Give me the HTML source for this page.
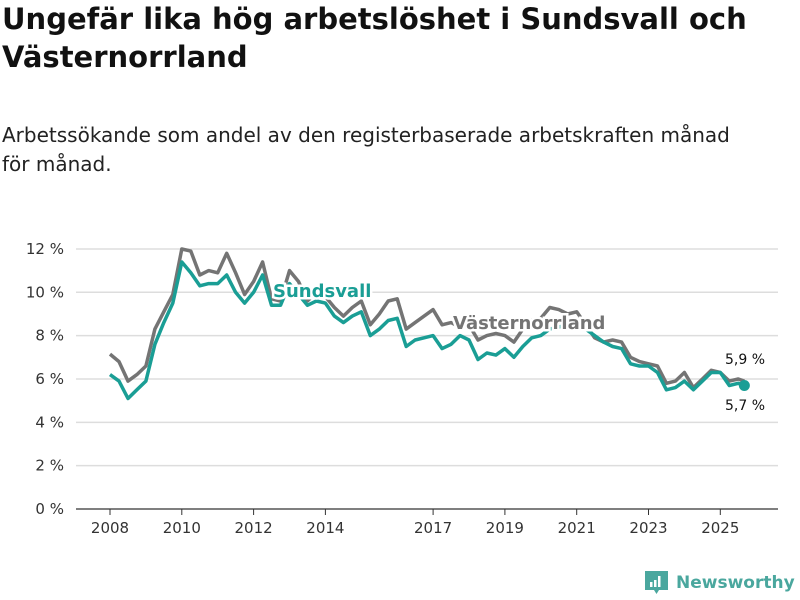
<!DOCTYPE html>
<html><head><meta charset="utf-8">
<style>
body{margin:0;background:#fff;width:800px;height:600px;overflow:hidden;font-family:"DejaVu Sans","Liberation Sans",sans-serif;color:#111}
h1{position:absolute;left:2px;top:0;margin:0;font-size:29px;line-height:38px;font-weight:bold;width:790px}
.sub{position:absolute;left:2px;top:121px;font-size:20px;line-height:29px;width:750px;color:#222}
svg{position:absolute;left:0;top:0}
</style></head><body>
<h1>Ungefär lika hög arbetslöshet i Sundsvall och Västernorrland</h1>
<div class="sub">Arbetssökande som andel av den registerbaserade arbetskraften månad för månad.</div>
<svg width="800" height="600" id="chart"></svg>
<script>
const years=[];
const vasternorrland=[7.15,6.8,5.9,6.2, 6.6,8.3,9.1,9.9, 12.0,11.9,10.8,11.0, 10.9,11.8,10.9,9.9, 10.5,11.4,9.7,9.6, 11.0,10.5,9.6,10.0, 9.8,9.3,8.9,9.3, 9.6,8.5,9.0,9.6, 9.7,8.3,8.6,8.9, 9.2,8.5,8.6,8.4, 8.5,7.8,8.0,8.1, 8.0,7.7,8.3,8.7, 8.8,9.3,9.2,9.0, 9.1,8.5,7.9,7.7, 7.8,7.7,7.0,6.8, 6.7,6.6,5.8,5.9, 6.3,5.6,6.0,6.4, 6.3,5.9,6.0,5.9];
const sundsvall=[6.2,5.9,5.1,5.5, 5.9,7.6,8.6,9.5, 11.4,10.9,10.3,10.4, 10.4,10.8,10.0,9.5, 10.0,10.8,9.4,9.4, 10.4,9.9,9.4,9.6, 9.5,8.9,8.6,8.9, 9.1,8.0,8.3,8.7, 8.8,7.5,7.8,7.9, 8.0,7.4,7.6,8.0, 7.8,6.9,7.2,7.1, 7.4,7.0,7.5,7.9, 8.0,8.3,8.4,8.5, 8.5,8.3,8.0,7.7, 7.5,7.4,6.7,6.6, 6.6,6.3,5.5,5.6, 5.9,5.5,5.9,6.3, 6.3,5.7,5.8,5.7];
for(let i=0;i<sundsvall.length;i++){years.push(2008+i*0.25);}
years[years.length-1]=2025.67;
const yTicks=[0,2,4,6,8,10,12];
const xTicks=[2008,2010,2012,2014,2017,2019,2021,2023,2025];
const NS="http://www.w3.org/2000/svg";
const svg=document.getElementById('chart');
const X=v=>110+(v-2008)*35.9;
const Y=v=>509-v*21.67;
function mk(t,a,txt){const e=document.createElementNS(NS,t);for(const k in a)e.setAttribute(k,a[k]);if(txt!==undefined)e.textContent=txt;svg.appendChild(e);return e;}
yTicks.forEach(t=>{
 const g=mk('line',{x1:76,x2:778,y1:Y(t),y2:Y(t),stroke:t===0?'#333':'#ddd','stroke-width':t===0?1.2:1.5});
 
 
 const l=mk('text',{x:64,y:Y(t)+5,'text-anchor':'end','font-size':15,fill:'#333'},t+' %');
 
 
});
xTicks.forEach(t=>{
 const k=mk('line',{x1:X(t),x2:X(t),y1:509,y2:515,stroke:'#333'});
 
 
 const l=mk('text',{x:X(t),y:533,'text-anchor':'middle','font-size':15,fill:'#333'},String(t));
 
 
});
function line(arr,color,name){
 const d=arr.map((v,i)=>(i?'L':'M')+X(years[i]).toFixed(1)+','+Y(v).toFixed(1)).join('');
 const p=mk('path',{d:d,fill:'none',stroke:color,'stroke-width':3.5,'stroke-linejoin':'round'});
 
 
}
line(vasternorrland,'#747474','line-vasternorrland');
line(sundsvall,'#1a9e95','line-sundsvall');
const n=years.length-1;
const dot=mk('circle',{cx:X(years[n]),cy:Y(sundsvall[n]),r:5.5,fill:'#1a9e95'});


function lab(x,y,txt,col,name,size,bold){
 const t=mk('text',{x:x,y:y,'font-size':size,'font-weight':bold?'bold':'normal',fill:col,stroke:'#fff','stroke-width':5,'paint-order':'stroke'},txt);
 
 
}
lab(273,297,'Sundsvall','#1a9e95','series-label-sundsvall',18,true);
lab(453,329,'Västernorrland','#747474','series-label-vasternorrland',18,true);
lab(725,364,'5,9 %','#111','end-label-vasternorrland',14,false);
lab(725,410,'5,7 %','#111','end-label-sundsvall',14,false);
</script>
<div style="position:absolute;left:645px;top:571px;height:24px;display:flex;align-items:center">
 <svg width="23" height="24" style="position:static"><path d="M0 0H23V19H14L11.5 23L9 19H0Z" fill="#4aa79e"/><rect x="5" y="11" width="2.5" height="5" fill="#fff"/><rect x="9" y="9" width="2.5" height="7" fill="#fff"/><rect x="13" y="5" width="2.5" height="11" fill="#fff"/></svg>
 <span style="margin-left:8px;font-size:17px;font-weight:bold;color:#4aa79e;font-family:'DejaVu Sans',sans-serif">Newsworthy</span>
</div>
</body></html>
